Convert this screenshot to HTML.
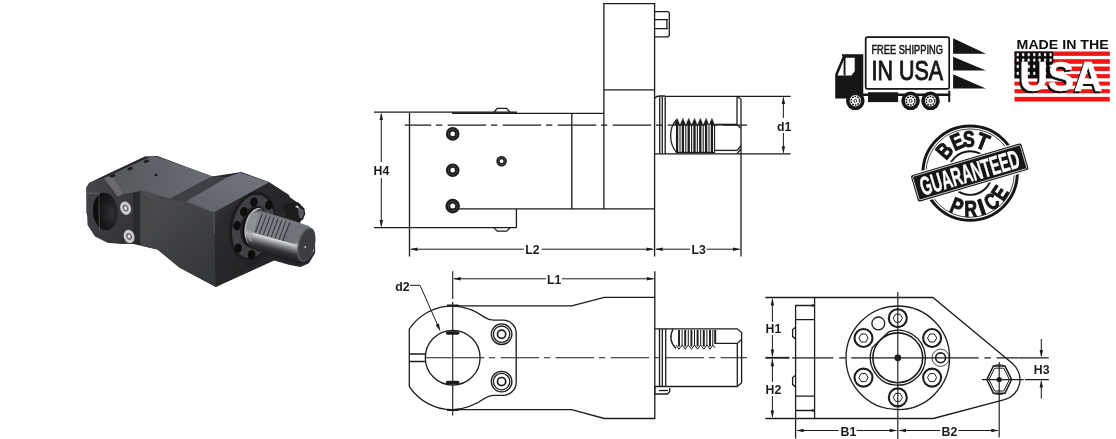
<!DOCTYPE html>
<html>
<head>
<meta charset="utf-8">
<title>Tool holder drawing</title>
<style>
html,body{margin:0;padding:0;background:#fff;}
body{width:1116px;height:439px;overflow:hidden;font-family:"Liberation Sans",sans-serif;}
svg{display:block;}
.l{stroke:#1c1c1c;stroke-width:1.3;fill:none;stroke-linecap:butt;stroke-linejoin:miter;}
.t{stroke:#1c1c1c;stroke-width:0.8;fill:none;}
.k{stroke:#1c1c1c;stroke-width:1.8;fill:none;}
.c{stroke:#1c1c1c;stroke-width:1.15;fill:none;}
.d{stroke:#1c1c1c;stroke-width:1.0;fill:none;}
.a{fill:#1c1c1c;stroke:none;}
.lb{font-family:"Liberation Sans",sans-serif;font-weight:bold;font-size:12.3px;fill:#1c1c1c;}
</style>
</head>
<body>
<svg width="1116" height="439" viewBox="0 0 1116 439">
<defs><filter id="soft" x="0" y="0" width="1116" height="439" filterUnits="userSpaceOnUse"><feGaussianBlur stdDeviation="0.4"/></filter></defs>
<rect x="0" y="0" width="1116" height="439" fill="#ffffff"/>
<g filter="url(#soft)">

<!-- ================= TOP VIEW (side elevation) ================= -->
<g id="topview">
  <!-- tall block -->
  <path class="l" d="M603.9 208.9 V3.6 H654.6 V256.5"/>
  <path class="l" d="M603.9 89.8 H654.6"/>
  <!-- bolt on block -->
  <path class="l" stroke-width="1.6" d="M654.6 11.6 H668 L669.3 13 V35.5 L668 36.8 H654.6"/>
  <path class="l" stroke-width="1.5" d="M654.6 19.6 H668 M654.6 28.6 H668 M666.9 19.6 V28.6"/>
  <!-- main body -->
  <path class="l" d="M409.5 256.5 V113 "/>
  <path class="l" d="M374 112.2 H517"/>
  <path class="k" d="M452 113.2 H517"/>
  <path class="l" d="M517 113.4 H603.9"/>
  <path class="l" d="M494 112.2 L497.3 108.4 H506.6 L510 112.2"/>
  <path class="l" d="M571.8 113.4 V208.9"/>
  <path class="l" d="M459 208.9 H654.6"/>
  <path class="l" d="M516.4 208.9 V227.7"/>
  <path class="l" d="M374 227.7 H516.4"/>
  <path class="l" d="M494 227.9 L497.3 231.2 H506.6 L510 227.9"/>
  <!-- screws -->
  <g>
    <circle cx="452.7" cy="133.9" r="5.7" fill="#5c5c5c" stroke="#1c1c1c" stroke-width="2.2"/>
    <circle cx="452.7" cy="133.9" r="3.2" fill="#fff" stroke="#1c1c1c" stroke-width="1.7"/>
    <circle cx="452.7" cy="170.2" r="5.7" fill="#5c5c5c" stroke="#1c1c1c" stroke-width="2.2"/>
    <circle cx="452.7" cy="170.2" r="3.2" fill="#fff" stroke="#1c1c1c" stroke-width="1.7"/>
    <circle cx="452.7" cy="206.1" r="6.1" fill="#5c5c5c" stroke="#1c1c1c" stroke-width="2.4"/>
    <circle cx="452.7" cy="206.1" r="3.4" fill="#fff" stroke="#1c1c1c" stroke-width="1.8"/>
    <circle cx="501.6" cy="161.2" r="4.5" fill="#5c5c5c" stroke="#1c1c1c" stroke-width="1.6"/>
    <circle cx="501.6" cy="161.2" r="2.5" fill="#fff" stroke="#1c1c1c" stroke-width="1.2"/>
  </g>
  <!-- centre line -->
  <path class="c" d="M404.8 125.1 H747" stroke-dasharray="38.5 4.8 6.3 5.4" stroke-dashoffset="12.1"/>
  <!-- shaft -->
  <path class="l" d="M665.2 96.3 H790.6 M654.6 153.9 H790.6"/>
  <path class="l" d="M654.6 98.2 C656 96.6 658 96 659.7 96 H665.2"/>
  <path class="l" d="M659.7 96.2 V153.6 M662.3 96.2 V153.6 M665.2 96.3 V153.9"/>
  <path class="l" d="M737 96.3 V124.6 M741 99 V256.5 M737 96.3 L741 99.2"/>
  <path class="l" d="M737 153.9 L741 148.6 M737 150.6 L741 145.6"/>
  <!-- thread -->
  <path class="l" d="M676.5 119.6 C668.6 128 668.6 144 676.8 152.6 H715"/>
  <path class="l" d="M714.6 150.4 H737"/>
  <path class="k" d="M715.4 124.6 H737" stroke-width="1.6"/>
  <path class="l" d="M737 124.6 L741 128.4"/>
  <path fill="#1c1c1c" stroke="#1c1c1c" stroke-width="0.5" d="M674.6 124.4 L677.1 118.4 L679.6 124.4 Z M680.4 124.4 L682.9 118.4 L685.4 124.4 Z M686.2 124.4 L688.7 118.4 L691.2 124.4 Z M692.0 124.4 L694.5 118.4 L697.0 124.4 Z M697.8 124.4 L700.3 118.4 L702.8 124.4 Z M703.6 124.4 L706.1 118.4 L708.6 124.4 Z M709.4 124.4 L711.9 118.4 L714.4 124.4 Z"/>
  <path fill="#1c1c1c" d="M674.9 151.8 L677.1 153.6 L679.3 151.8 Z M680.7 151.8 L682.9 153.6 L685.1 151.8 Z M686.5 151.8 L688.7 153.6 L690.9 151.8 Z M692.3 151.8 L694.5 153.6 L696.7 151.8 Z M698.1 151.8 L700.3 153.6 L702.5 151.8 Z M703.9 151.8 L706.1 153.6 L708.3 151.8 Z M709.7 151.8 L711.9 153.6 L714.1 151.8 Z"/>
  <path stroke="#1c1c1c" stroke-width="2.3" fill="none" d="M677.1 121 V152.6 M682.9 121 V152.6 M688.7 121 V152.6 M694.5 121 V152.6 M700.3 121 V152.6 M706.1 121 V152.6 M711.9 121 V152.6"/>
  <path stroke="#1c1c1c" stroke-width="1.1" fill="none" d="M680 124 V152 M685.8 124 V152 M691.6 124 V152 M697.4 124 V152 M703.2 124 V152 M709 124 V152 M714.6 124 V152"/>
  <!-- dimensions -->
  <path class="d" d="M381.3 114 V226"/>
  <path class="a" d="M381.3 112.6 L379.6 120 H383 Z M381.3 227.4 L379.6 220 H383 Z"/>
  <rect x="372" y="162" width="19" height="16" fill="#fff"/>
  <text class="lb" x="373.6" y="174.6">H4</text>
  <path class="d" d="M411 249.2 H653 M656 249.2 H739.6"/>
  <path class="a" d="M410 249.2 L417.5 247.5 V250.9 Z M654 249.2 L646.5 247.5 V250.9 Z M655.2 249.2 L662.7 247.5 V250.9 Z M740.5 249.2 L733 247.5 V250.9 Z"/>
  <rect x="524" y="242" width="17.5" height="14" fill="#fff"/>
  <text class="lb" x="525.3" y="254.2">L2</text>
  <rect x="690" y="242" width="16.5" height="14" fill="#fff"/>
  <text class="lb" x="691.4" y="254.2">L3</text>
  <path class="d" d="M783.4 97.5 V152.6"/>
  <path class="a" d="M783.4 96.6 L781.7 104 H785.1 Z M783.4 153.6 L781.7 146.2 H785.1 Z"/>
  <rect x="776" y="118" width="16" height="15" fill="#fff"/>
  <text class="lb" x="777" y="131">d1</text>
</g>

<!-- ================= PLAN VIEW ================= -->
<g id="planview">
  <!-- outline -->
  <path class="l" d="M409.3 386.6 V329 A52 52 0 0 1 452.7 305.9 H571.7 L604.3 297.3 H654.8 V418.5 H604.3 L571.7 409.7 H452.7 A52 52 0 0 1 409.3 386.6"/>
  <!-- clamp contour -->
  <path class="l" d="M452.7 305.9 C468 306.5 478 312.5 485.3 317.6 C488.5 319.6 490.5 320.2 493.5 320.2 H503 A13.2 13.2 0 0 1 516.2 333.4 V382.2 A13.2 13.2 0 0 1 503 395.4 H493.5 C490.5 395.4 488.5 396 485.3 398 C478 403.1 468 409.1 452.7 409.7"/>
  <!-- bore -->
  <circle class="l" cx="452.7" cy="357.7" r="27.4"/>
  <!-- slot -->
  <path class="l" d="M409.3 354 H425.6 M409.3 361.5 H425.6"/>
  <!-- bore marks -->
  <path stroke="#1c1c1c" stroke-width="3.4" stroke-linecap="round" fill="none" d="M447.5 333 H457.8 M447.5 382.5 H457.8"/>
  <path stroke="#1c1c1c" stroke-width="2.2" fill="none" d="M447 305.6 H458.5 M447 410 H458.5"/>
  <!-- screws -->
  <circle class="l" cx="501.6" cy="334.2" r="10.3"/>
  <circle class="l" cx="501.6" cy="334.2" r="8.2"/>
  <circle cx="501.6" cy="334.2" r="4.1" fill="none" stroke="#1c1c1c" stroke-width="1.7"/>
  <circle class="l" cx="501.6" cy="381.6" r="10.3"/>
  <circle class="l" cx="501.6" cy="381.6" r="8.2"/>
  <circle cx="501.6" cy="381.6" r="4.1" fill="none" stroke="#1c1c1c" stroke-width="1.7"/>
  <!-- centre lines -->
  <path class="c" d="M425.6 357.7 H484.3"/><path class="c" d="M488.9 357.7 H747" stroke-dasharray="6.3 5.4 38.5 4.8"/>
  <path class="c" d="M452.7 271.3 V299 M452.7 302 V415.5"/>
  <path class="l" d="M654.8 271.3 V297.3"/>
  <!-- shaft -->
  <path class="l" d="M654.8 328.8 H737.3 L741.6 332.6 V382.7 L737.3 386.5 H654.8"/>
  <path class="l" d="M737.3 343.4 V386.5"/>
  <path class="l" d="M659.5 329 V386.3 M662.3 329 V386.3 M665.7 328.8 V386.5"/>
  <path class="l" d="M654.8 386.5 V394 H667.6 L669.7 391.6 V388"/>
  <path class="l" d="M659 390.5 H668"/>
  <!-- thread -->
  <path class="l" d="M673 329 C669.5 336 670.5 343 676 348.5"/>
  <path class="l" d="M715.3 343.4 H737.3 L741.6 339.5"/>
  <path stroke="#1c1c1c" stroke-width="1.9" fill="none" d="M679 330 V346.5 M685.2 330 V346.5 M691.4 330 V346.5 M697.6 330 V346.5 M703.8 330 V346.5 M710 330 V346.5 M715.2 330 V344"/>
  <path class="d" d="M682.1 330 V345 M688.3 330 V345 M694.5 330 V345 M700.7 330 V345 M706.9 330 V345 M712.8 330 V345"/>
  <path class="d" d="M676 345 L679 349.2 L682.1 345 L685.2 349.2 L688.3 345 L691.4 349.2 L694.5 345 L697.6 349.2 L700.7 345 L703.8 349.2 L706.9 345 L710 349.2 L712.8 345 L715.3 348"/>
  <!-- dims -->
  <path class="d" d="M454 278.8 H653.6"/>
  <path class="a" d="M453.2 278.8 L460.7 277.1 V280.5 Z M654.3 278.8 L646.8 277.1 V280.5 Z"/>
  <rect x="546" y="271.5" width="16" height="14" fill="#fff"/>
  <text class="lb" x="547" y="283.8">L1</text>
  <text class="lb" x="395.3" y="290.8">d2</text>
  <path class="d" d="M410 285.3 H420 L438.8 327.6"/>
  <path class="a" d="M440.4 331.4 L435.6 325 L438.9 323.5 Z"/>
</g>

<!-- ================= FRONT VIEW ================= -->
<g id="frontview">
  <!-- body outline -->
  <path class="l" d="M765.3 297.5 H932.9 L1012.5 363.6 A20.8 20.8 0 0 1 1004.5 399.7 L933.3 418.5 H765.3"/>
  <path class="l" d="M814.6 297.5 V418.5"/>
  <!-- flange plate -->
  <path class="l" d="M795.6 438.5 V305.5 H814.6"/>
  <path class="l" d="M795.6 319.6 H814.6 M795.6 396.2 H814.6 M795.6 410.5 H814.6"/>
  <path class="k" d="M811.5 305.5 H814.6 M811.5 410.5 H814.6"/>
  <path class="l" d="M795.6 327.2 L792.6 329.6 V336.6 L795.6 339 M795.6 375.2 L792.6 377.6 V384.6 L795.6 387"/>
  <!-- main circles -->
  <circle class="l" cx="897.8" cy="357.8" r="51.8"/>
  <path class="l" d="M872.3 347.6 A27.5 27.5 0 1 0 888.7 331.8 Z"/>
  <circle cx="897.8" cy="357.8" r="24.9" fill="none" stroke="#1c1c1c" stroke-width="1.6"/>
  <circle cx="897.8" cy="318.2" r="9.0" fill="#fff" stroke="#1c1c1c" stroke-width="2.1"/>
  <path class="d" d="M902.4 318.2 L900.1 322.2 L895.5 322.2 L893.2 318.2 L895.5 314.2 L900.1 314.2 Z"/>
  <circle cx="932.1" cy="338.0" r="9.0" fill="#fff" stroke="#1c1c1c" stroke-width="2.1"/>
  <path class="d" d="M936.7 338.0 L934.4 342.0 L929.8 342.0 L927.5 338.0 L929.8 334.0 L934.4 334.0 Z"/>
  <circle cx="932.1" cy="377.6" r="9.0" fill="#fff" stroke="#1c1c1c" stroke-width="2.1"/>
  <path class="d" d="M936.7 377.6 L934.4 381.6 L929.8 381.6 L927.5 377.6 L929.8 373.6 L934.4 373.6 Z"/>
  <circle cx="897.8" cy="397.4" r="9.0" fill="#fff" stroke="#1c1c1c" stroke-width="2.1"/>
  <path class="d" d="M902.4 397.4 L900.1 401.4 L895.5 401.4 L893.2 397.4 L895.5 393.4 L900.1 393.4 Z"/>
  <circle cx="863.5" cy="377.6" r="9.0" fill="#fff" stroke="#1c1c1c" stroke-width="2.1"/>
  <path class="d" d="M868.1 377.6 L865.8 381.6 L861.2 381.6 L858.9 377.6 L861.2 373.6 L865.8 373.6 Z"/>
  <circle cx="863.5" cy="338.0" r="9.0" fill="#fff" stroke="#1c1c1c" stroke-width="2.1"/>
  <path class="d" d="M868.1 338.0 L865.8 342.0 L861.2 342.0 L858.9 338.0 L861.2 334.0 L865.8 334.0 Z"/>

  <circle class="l" cx="878.3" cy="323.4" r="6.4" stroke-width="1.4"/>
  <circle class="t" cx="940.6" cy="357.8" r="8.6" stroke-width="1.05"/>
  <circle cx="940.6" cy="357.8" r="4.9" fill="#fff" stroke="#1c1c1c" stroke-width="1.6"/>
  <circle cx="897.8" cy="357.8" r="3.4" fill="#1c1c1c"/>
  <circle cx="897.8" cy="357.8" r="1.1" fill="#777"/>
  <!-- centre lines -->
  <path class="c" d="M897.8 292 V439"/>
  <path class="c" d="M792.1 357.8 H833.4 M839.2 357.8 H845.7 M851.2 357.8 H978.6 M984.4 357.8 H990.8 M996.6 357.8 H1018.5"/>
  <path class="k" d="M765.3 357.8 H789.5"/>
  <!-- hex bolt nose -->
  <path d="M986.8 379.6 L993.4 366.0 L1005.0 366.0 L1011.6 379.6 L1005.0 393.2 L993.4 393.2 Z" fill="#fff" stroke="#1c1c1c" stroke-width="1.5"/>
  <path class="d" d="M989.0 379.6 L994.6 368.2 L1003.8 368.2 L1009.4 379.6 L1003.8 391.0 L994.6 391.0 Z"/>
  <path class="d" d="M993.6 366.2 C994.6 364.4 1003.8 364.4 1004.8 366.2 M993.6 393 C994.6 394.8 1003.8 394.8 1004.8 393"/>
  <circle cx="999.2" cy="379.6" r="2.7" fill="#1c1c1c"/>
  <path class="c" d="M999.2 362 V437.5 M981.9 379.6 H1023.7"/>
  <!-- dims H1/H2 -->
  <path class="d" d="M772.4 299 V322 M772.4 335 V356.4 M772.4 359.2 V382 M772.4 396 V417"/>
  <path class="a" d="M772.4 298 L770.7 305.4 H774.1 Z M772.4 357 L770.7 349.6 H774.1 Z M772.4 358.8 L770.7 366.2 H774.1 Z M772.4 418 L770.7 410.6 H774.1 Z"/>
  <text class="lb" x="765.6" y="332.6">H1</text>
  <text class="lb" x="765.6" y="393.6">H2</text>
  <!-- dims B1/B2 -->
  <path class="d" d="M797 430.5 H896.4 M899.2 430.5 H998"/>
  <path class="a" d="M796.2 430.5 L803.7 428.8 V432.2 Z M897.2 430.5 L889.7 428.8 V432.2 Z M898.5 430.5 L906 428.8 V432.2 Z M998.8 430.5 L991.3 428.8 V432.2 Z"/>
  <rect x="838.6" y="423" width="18" height="14" fill="#fff"/>
  <text class="lb" x="840.6" y="435.6">B1</text>
  <rect x="940.3" y="423" width="18" height="14" fill="#fff"/>
  <text class="lb" x="941.6" y="435.6">B2</text>
  <!-- H3 -->
  <path class="l" d="M1018.7 357.8 H1048.8 M1025 379.6 H1048.8"/>
  <path class="d" d="M1041.3 339 V356 M1041.3 381.4 V398.7"/>
  <path class="a" d="M1041.3 357.3 L1039.6 349.9 H1043 Z M1041.3 380.1 L1039.6 387.5 H1043 Z"/>
  <text class="lb" x="1033.8" y="373.6">H3</text>
</g>

<!-- PHOTO-START -->
<defs>
  <linearGradient id="gTop" x1="0" y1="0" x2="1" y2="0"><stop offset="0" stop-color="#54565b"/><stop offset="0.55" stop-color="#606369"/><stop offset="1" stop-color="#6a6d74"/></linearGradient>
  <linearGradient id="gTop2" x1="0" y1="1" x2="1" y2="0"><stop offset="0" stop-color="#5e6168"/><stop offset="1" stop-color="#73777f"/></linearGradient>
  <linearGradient id="gSide" x1="0" y1="0" x2="0.6" y2="1"><stop offset="0" stop-color="#4c4d52"/><stop offset="0.5" stop-color="#424347"/><stop offset="1" stop-color="#36373a"/></linearGradient>
  <linearGradient id="gFront" x1="0" y1="0" x2="1" y2="1"><stop offset="0" stop-color="#47484d"/><stop offset="0.22" stop-color="#2b2c2f"/><stop offset="1" stop-color="#1b1b1e"/></linearGradient>
  <linearGradient id="gClamp" x1="0" y1="0" x2="1" y2="1"><stop offset="0" stop-color="#46474b"/><stop offset="1" stop-color="#2c2d30"/></linearGradient>
  <linearGradient id="gShaft" gradientUnits="userSpaceOnUse" x1="277" y1="214" x2="266" y2="256"><stop offset="0" stop-color="#62666c"/><stop offset="0.12" stop-color="#7e8288"/><stop offset="0.5" stop-color="#787c82"/><stop offset="0.6" stop-color="#c4c6c9"/><stop offset="0.7" stop-color="#77797d"/><stop offset="0.8" stop-color="#343538"/><stop offset="1" stop-color="#141416"/></linearGradient>
  <radialGradient id="gBore" cx="0.75" cy="0.55" r="0.75"><stop offset="0" stop-color="#303135"/><stop offset="0.6" stop-color="#17181a"/><stop offset="1" stop-color="#09090a"/></radialGradient>
  <filter id="pblur" x="60" y="130" width="290" height="190" filterUnits="userSpaceOnUse"><feGaussianBlur stdDeviation="0.6"/></filter>
</defs>
<g id="photo" filter="url(#pblur)">
<path fill="#262729" d="M86.4 187.4 L89.0 183.0 L106.5 174.6 L144.8 156.4 L157.5 156.0 L212.2 176.5 L241.4 172.1 L268.8 181.9 L288.8 194.7 L293.2 204.9 L302.7 212.2 L303.4 218.8 L299.0 222.4 L307.1 229.4 L315.1 240.3 L315.1 253.1 L308.9 263.3 L300.5 266.9 L288.8 264.7 L274.2 260.4 L215.9 287.0 L179.4 267.6 L157.5 249.4 L141.1 245.8 L133.8 243.9 L121.1 243.2 L106.5 235.6 L91.9 225.7 L86.4 212.9 Z"/>
<path fill="url(#gTop)" d="M103.8 178.0 L151.4 156.3 L158.1 157.0 L212.6 176.3 L170.1 198.8 L140.1 191.3 L122.6 194.6 L112.6 175.5 Z"/>
<path fill="#3d3f44" d="M212.6 176.3 L227.7 177.0 L186.3 201.3 L170.1 198.8 Z"/>
<path fill="url(#gTop2)" d="M227.7 177.0 L240.2 172.5 L269.0 182.6 L213.9 212.6 L186.3 201.3 Z"/>
<path fill="url(#gSide)" d="M140.0 189.6 L170.1 198.8 L186.3 201.3 L213.9 212.6 L215.9 287.0 L179.4 267.6 L157.5 249.4 L141.1 245.8 Z"/>
<path fill="url(#gFront)" d="M213.9 212.6 L269.0 182.6 L300.2 204.6 L304.7 213.8 L300.2 222.6 L265.1 260.2 L243.8 269.9 L215.9 287.0 Z"/>
<path stroke="#5a5d63" stroke-width="0.9" fill="none" d="M186.3 201.3 L213.9 212.6 L214.4 235.1"/>
<path fill="url(#gClamp)" d="M86.3 188.1 L90.0 182.6 L103.8 178.0 L112.6 175.5 L122.6 194.6 L140.1 191.3 L151.4 202.6 L151.4 232.6 L138.9 243.2 L121.3 243.9 L107.5 242.7 L95.0 236.4 L87.5 225.1 Z"/>
<path fill="#686a70" d="M103.8 178.0 L112.6 175.5 L123.1 194.1 L117.6 196.6 Z"/>
<path fill="#45464a" d="M140.1 191.3 L152.1 201.3 L152.6 232.6 L140.1 244.2 Z"/>
<path fill="#28292c" d="M133.1 193.1 L140.1 191.3 L140.1 244.2 L133.6 243.7 Z"/>
<ellipse cx="105.3" cy="211.6" rx="12.3" ry="18.8" transform="rotate(-5.0 105.3 211.6)" fill="url(#gBore)" />
<path stroke="#b8babd" stroke-width="0.6" fill="none" opacity="0.5" d="M86.3 193.1 L98.8 193.1 L99.5 230.1"/>
<ellipse cx="125.6" cy="208.1" rx="5.3" ry="6.8" transform="rotate(-20.0 125.6 208.1)" fill="#c9cacc" />
<ellipse cx="125.6" cy="208.1" rx="2.8" ry="3.5" transform="rotate(-20.0 125.6 208.1)" fill="#6d6f73" />
<ellipse cx="125.6" cy="208.1" rx="1.3" ry="1.8" transform="rotate(-20.0 125.6 208.1)" fill="#e8e8ea" />
<ellipse cx="129.1" cy="236.4" rx="5.3" ry="6.8" transform="rotate(-20.0 129.1 236.4)" fill="#c9cacc" />
<ellipse cx="129.1" cy="236.4" rx="2.8" ry="3.5" transform="rotate(-20.0 129.1 236.4)" fill="#6d6f73" />
<ellipse cx="129.1" cy="236.4" rx="1.3" ry="1.8" transform="rotate(-20.0 129.1 236.4)" fill="#e8e8ea" />
<ellipse cx="146.4" cy="161.3" rx="2.9" ry="1.6" transform="rotate(-15.0 146.4 161.3)" fill="#1c1d1f" />
<ellipse cx="130.1" cy="168.8" rx="2.9" ry="1.6" transform="rotate(-15.0 130.1 168.8)" fill="#1c1d1f" />
<ellipse cx="112.6" cy="175.8" rx="2.9" ry="1.6" transform="rotate(-15.0 112.6 175.8)" fill="#1c1d1f" />
<ellipse cx="155.9" cy="175.0" rx="2.0" ry="1.1" transform="rotate(-15.0 155.9 175.0)" fill="#1c1d1f" />
<ellipse cx="252.6" cy="226.4" rx="23.0" ry="35.1" transform="rotate(12.0 252.6 226.4)" fill="#1b1c1e" />
<ellipse cx="253.1" cy="226.4" rx="20.5" ry="32.1" transform="rotate(12.0 253.1 226.4)" fill="#404146" />
<ellipse cx="254.1" cy="226.6" rx="13.5" ry="21.5" transform="rotate(12.0 254.1 226.6)" fill="#202124" />
<ellipse cx="253.9" cy="202.1" rx="3.8" ry="4.8" transform="rotate(12.0 253.9 202.1)" fill="#0c0c0d" />
<ellipse cx="268.9" cy="205.1" rx="3.8" ry="4.8" transform="rotate(12.0 268.9 205.1)" fill="#0c0c0d" />
<ellipse cx="243.8" cy="211.8" rx="3.8" ry="4.8" transform="rotate(12.0 243.8 211.8)" fill="#0c0c0d" />
<ellipse cx="237.1" cy="225.6" rx="3.8" ry="4.8" transform="rotate(12.0 237.1 225.6)" fill="#0c0c0d" />
<ellipse cx="238.1" cy="248.2" rx="3.8" ry="4.8" transform="rotate(12.0 238.1 248.2)" fill="#0c0c0d" />
<ellipse cx="251.6" cy="254.7" rx="3.8" ry="4.8" transform="rotate(12.0 251.6 254.7)" fill="#0c0c0d" />
<path fill="#1a1a1c" d="M282.9 207.0 L287.7 203.3 L298.0 202.2 L304.4 208.6 L305.2 214.1 L302.8 219.7 L298.0 220.5 L287.7 217.3 Z"/>
<path fill="#56585c" d="M297.5 206.5 L303.3 209.7 L303.9 214.1 L302.0 218.9 L299.1 217.3 Z"/>
<ellipse cx="297.2" cy="206.8" rx="1.8" ry="1.1" transform="rotate(20.0 297.2 206.8)" fill="#c4c5c8" />
<ellipse cx="254.6" cy="227.1" rx="11.8" ry="20.0" transform="rotate(12.0 254.6 227.1)" fill="#0e0e10" />
<ellipse cx="256.1" cy="227.1" rx="11.3" ry="19.3" transform="rotate(12.0 256.1 227.1)" fill="#aeb0b4" />
<ellipse cx="258.6" cy="227.1" rx="10.5" ry="18.3" transform="rotate(12.0 258.6 227.1)" fill="#2c2d30" />
<path fill="url(#gShaft)" d="M251.0 213.4 L259.7 210.2 L290.1 219.7 L309.2 226.1 L314.8 236.5 L314.0 250.8 L306.8 262.8 L298.8 263.6 L266.9 254.4 L250.2 248.0 L245.9 238.1 L247.0 223.7 Z"/>
<path fill="#9c9ea2" opacity="0.55" d="M247.4 223.7 L251.0 213.8 L258.9 212.6 L254.1 232.7 L251.0 242.9 L247.0 237.3 Z"/>
<path fill="#7d8187" d="M258.9 212.6 L290.1 222.1 L279.7 240.0 L254.1 232.7 Z"/>
<path fill="#6f737a" d="M290.1 222.1 L307.9 227.2 L305.5 231.4 L294.4 244.0 L279.7 240.0 Z"/>
<path stroke="#3a3c40" stroke-width="1.2" fill="none" d="M262.4 213.7 L255.4 232.5 M266.4 214.9 L259.3 233.7 M270.3 216.1 L263.2 234.9 M274.2 217.3 L267.2 236.1 M278.1 218.5 L271.1 237.3 M282.0 219.7 L275.0 238.6 M285.9 220.9 L278.9 239.8 M289.8 222.2 L282.8 241.0"/>
<path stroke="#d4d6d8" stroke-width="1.3" fill="none" d="M252.9 233.6 L279.7 241.0 L294.4 244.8"/>
<ellipse cx="306.3" cy="244.5" rx="8.5" ry="17.6" transform="rotate(14.0 306.3 244.5)" fill="#5c5e62" />
<ellipse cx="306.8" cy="244.8" rx="7.7" ry="16.4" transform="rotate(14.0 306.8 244.8)" fill="#3b3d41" />
<ellipse cx="305.2" cy="247.0" rx="1.0" ry="1.1" transform="rotate(0.0 305.2 247.0)" fill="#c8c8ca" />
</g>
<!-- PHOTO-END -->
<!-- ================= BADGES ================= -->
<g id="truck">
  <rect x="865.7" y="37.1" width="83.5" height="51.8" rx="1.8" fill="#fff" stroke="#161616" stroke-width="1.7"/>
  <text x="871.4" y="53.6" font-family="Liberation Sans, sans-serif" font-size="12.9" fill="#161616" textLength="71.5" lengthAdjust="spacingAndGlyphs" stroke="#161616" stroke-width="0.55">FREE SHIPPING</text>
  <text x="871.6" y="80.3" font-family="Liberation Sans, sans-serif" font-size="27.2" fill="#161616" textLength="71.5" lengthAdjust="spacingAndGlyphs" stroke="#161616" stroke-width="1.0">IN USA</text>
  <path fill="#161616" d="M842.0 54.3 L863.3 54.3 L863.3 98.4 L835.2 98.4 L835.2 74.2 L842.8 56.2 L842.0 56.2 Z"/>
  <path fill="#fff" d="M845.7 57.8 L854.7 57.8 L854.7 71.3 L851.4 75.4 L837.5 75.4 L844.4 58.4 L845.7 58.4 Z"/>
  <path fill="#161616" d="M843.6 57.8 L845.5 57.8 L845.5 75.4 L843.6 75.4 Z"/>
  <path fill="#161616" d="M868.0 92.2 L898.1 92.2 L898.1 102.1 L868.0 102.1 Z"/>
  <path fill="#161616" d="M862.9 93.5 L950.2 93.5 L950.2 95.9 L862.9 95.9 Z"/>
  <path fill="#161616" d="M948.2 90.6 L950.2 90.6 L950.2 102.1 L948.2 102.1 Z"/>
  <circle cx="855.3" cy="100.8" r="9.3" fill="#161616"/><circle cx="855.3" cy="100.8" r="5.7" fill="#fff"/><circle cx="855.3" cy="100.8" r="4.3" fill="none" stroke="#161616" stroke-width="1.5" stroke-dasharray="1.7 1"/><circle cx="855.3" cy="100.8" r="1.5" fill="#fff" stroke="#161616" stroke-width="0.9"/>
<circle cx="910.6" cy="100.8" r="9.3" fill="#161616"/><circle cx="910.6" cy="100.8" r="5.7" fill="#fff"/><circle cx="910.6" cy="100.8" r="4.3" fill="none" stroke="#161616" stroke-width="1.5" stroke-dasharray="1.7 1"/><circle cx="910.6" cy="100.8" r="1.5" fill="#fff" stroke="#161616" stroke-width="0.9"/>
<circle cx="930.5" cy="100.8" r="9.3" fill="#161616"/><circle cx="930.5" cy="100.8" r="5.7" fill="#fff"/><circle cx="930.5" cy="100.8" r="4.3" fill="none" stroke="#161616" stroke-width="1.5" stroke-dasharray="1.7 1"/><circle cx="930.5" cy="100.8" r="1.5" fill="#fff" stroke="#161616" stroke-width="0.9"/>

  <path fill="#161616" d="M953.1 38.3 L985.9 53.7 H953.1 Z M953.1 56.8 L985.9 70.5 H953.1 Z M953.1 74.2 L985.9 88.5 H953.1 Z"/>
</g>
<g id="flag">
  <rect x="1014.5" y="51.5" width="95.3" height="4.4" fill="#f11414"/>
<rect x="1014.5" y="59.2" width="95.3" height="4.6" fill="#f11414"/>
<rect x="1014.5" y="66.5" width="95.3" height="4.6" fill="#f11414"/>
<rect x="1014.5" y="74.1" width="95.3" height="4.2" fill="#f11414"/>
<rect x="1014.5" y="81.6" width="95.3" height="4.0" fill="#f11414"/>
<rect x="1014.5" y="89.2" width="95.3" height="4.0" fill="#f11414"/>
<rect x="1014.5" y="96.9" width="95.3" height="4.6" fill="#f11414"/>

  <rect x="1014.5" y="51.5" width="38.8" height="26.8" fill="#111"/>
  <rect x="1016.7" y="52.9" width="2.2" height="3.4" rx="0.8" fill="#e8ecf4"/><rect x="1022.1" y="52.9" width="2.2" height="3.4" rx="0.8" fill="#e8ecf4"/><rect x="1027.6" y="52.9" width="2.2" height="3.4" rx="0.8" fill="#e8ecf4"/><rect x="1033.1" y="52.9" width="2.2" height="3.4" rx="0.8" fill="#e8ecf4"/><rect x="1038.5" y="52.9" width="2.2" height="3.4" rx="0.8" fill="#e8ecf4"/><rect x="1044.0" y="52.9" width="2.2" height="3.4" rx="0.8" fill="#e8ecf4"/><rect x="1049.5" y="52.9" width="2.2" height="3.4" rx="0.8" fill="#e8ecf4"/><rect x="1016.7" y="58.4" width="2.2" height="3.4" rx="0.8" fill="#e8ecf4"/><rect x="1022.1" y="58.4" width="2.2" height="3.4" rx="0.8" fill="#e8ecf4"/><rect x="1027.6" y="58.4" width="2.2" height="3.4" rx="0.8" fill="#e8ecf4"/><rect x="1033.1" y="58.4" width="2.2" height="3.4" rx="0.8" fill="#e8ecf4"/><rect x="1038.5" y="58.4" width="2.2" height="3.4" rx="0.8" fill="#e8ecf4"/><rect x="1044.0" y="58.4" width="2.2" height="3.4" rx="0.8" fill="#e8ecf4"/><rect x="1049.5" y="58.4" width="2.2" height="3.4" rx="0.8" fill="#e8ecf4"/><rect x="1016.7" y="64.8" width="2.2" height="3.4" rx="0.8" fill="#e8ecf4"/><rect x="1022.1" y="64.8" width="2.2" height="3.4" rx="0.8" fill="#e8ecf4"/><rect x="1027.6" y="64.8" width="2.2" height="3.4" rx="0.8" fill="#e8ecf4"/><rect x="1033.1" y="64.8" width="2.2" height="3.4" rx="0.8" fill="#e8ecf4"/><rect x="1038.5" y="64.8" width="2.2" height="3.4" rx="0.8" fill="#e8ecf4"/><rect x="1044.0" y="64.8" width="2.2" height="3.4" rx="0.8" fill="#e8ecf4"/><rect x="1049.5" y="64.8" width="2.2" height="3.4" rx="0.8" fill="#e8ecf4"/><rect x="1016.7" y="71.7" width="2.2" height="3.4" rx="0.8" fill="#e8ecf4"/><rect x="1022.1" y="71.7" width="2.2" height="3.4" rx="0.8" fill="#e8ecf4"/><rect x="1027.6" y="71.7" width="2.2" height="3.4" rx="0.8" fill="#e8ecf4"/><rect x="1033.1" y="71.7" width="2.2" height="3.4" rx="0.8" fill="#e8ecf4"/><rect x="1038.5" y="71.7" width="2.2" height="3.4" rx="0.8" fill="#e8ecf4"/><rect x="1044.0" y="71.7" width="2.2" height="3.4" rx="0.8" fill="#e8ecf4"/><rect x="1049.5" y="71.7" width="2.2" height="3.4" rx="0.8" fill="#e8ecf4"/>
  <text x="1016.6" y="49.2" font-family="Liberation Sans, sans-serif" font-weight="bold" font-size="13" fill="#0c0c0c" textLength="92" lengthAdjust="spacingAndGlyphs">MADE IN THE</text>
  <text x="1017.6" y="93" font-family="Liberation Sans, sans-serif" font-weight="bold" font-size="43" fill="#0c0c0c" stroke="#0c0c0c" stroke-width="0.6" textLength="83" lengthAdjust="spacingAndGlyphs">USA</text>
  <text x="1019.4" y="91.4" font-family="Liberation Sans, sans-serif" font-weight="bold" font-size="43" fill="#fff" stroke="#fff" stroke-width="0.6" textLength="83" lengthAdjust="spacingAndGlyphs">USA</text>
</g>

<g id="stamp">
  <circle cx="970.1" cy="173.1" r="47.2" fill="#fff" stroke="#161616" stroke-width="3"/>
  <circle cx="970.1" cy="173.1" r="44.2" fill="none" stroke="#161616" stroke-width="0.8"/>
  <circle cx="970.1" cy="173.1" r="21.8" fill="none" stroke="#161616" stroke-width="1.9"/>
  <text transform="translate(970.1 173.1) rotate(-48.9) translate(0 -26.3) scale(0.80 1)" text-anchor="middle" font-family="Liberation Sans, sans-serif" font-weight="bold" font-size="22.6" fill="#161616" stroke="#161616" stroke-width="1.0">B</text>
  <text transform="translate(970.1 173.1) rotate(-22.5) translate(0 -26.3) scale(0.78 1)" text-anchor="middle" font-family="Liberation Sans, sans-serif" font-weight="bold" font-size="22.6" fill="#161616" stroke="#161616" stroke-width="1.0">E</text>
  <text transform="translate(970.1 173.1) rotate(-2.1) translate(0 -26.3) scale(0.78 1)" text-anchor="middle" font-family="Liberation Sans, sans-serif" font-weight="bold" font-size="22.6" fill="#161616" stroke="#161616" stroke-width="1.0">S</text>
  <text transform="translate(970.1 173.1) rotate(21.6) translate(0 -26.3) scale(0.88 1)" text-anchor="middle" font-family="Liberation Sans, sans-serif" font-weight="bold" font-size="22.6" fill="#161616" stroke="#161616" stroke-width="1.0">T</text>
  <text transform="translate(970.1 173.1) rotate(21.9) translate(0 43.6) scale(0.78 1)" text-anchor="middle" font-family="Liberation Sans, sans-serif" font-weight="bold" font-size="22.6" fill="#161616" stroke="#161616" stroke-width="1.0">P</text>
  <text transform="translate(970.1 173.1) rotate(-1.1) translate(0 43.6) scale(0.78 1)" text-anchor="middle" font-family="Liberation Sans, sans-serif" font-weight="bold" font-size="22.6" fill="#161616" stroke="#161616" stroke-width="1.0">R</text>
  <text transform="translate(970.1 173.1) rotate(-18.4) translate(0 43.6) scale(1.00 1)" text-anchor="middle" font-family="Liberation Sans, sans-serif" font-weight="bold" font-size="22.6" fill="#161616" stroke="#161616" stroke-width="1.0">I</text>
  <text transform="translate(970.1 173.1) rotate(-36.7) translate(0 43.6) scale(0.76 1)" text-anchor="middle" font-family="Liberation Sans, sans-serif" font-weight="bold" font-size="22.6" fill="#161616" stroke="#161616" stroke-width="1.0">C</text>
  <text transform="translate(970.1 173.1) rotate(-56.6) translate(0 43.6) scale(0.76 1)" text-anchor="middle" font-family="Liberation Sans, sans-serif" font-weight="bold" font-size="22.6" fill="#161616" stroke="#161616" stroke-width="1.0">E</text>
  <g transform="rotate(-16.4 969.7 172.5)" opacity="0.999">
    <rect x="911.4" y="158" width="116.6" height="29" rx="2.8" fill="#161616" stroke="#fff" stroke-width="1.4"/>
    <rect x="913.6" y="160.2" width="112.2" height="24.6" rx="1.6" fill="none" stroke="#fff" stroke-width="0.7"/>
    <text x="969.7" y="181.6" font-family="Liberation Sans, sans-serif" font-weight="bold" font-size="26" fill="#fff" stroke="#fff" stroke-width="0.45" text-anchor="middle" textLength="102.5" lengthAdjust="spacingAndGlyphs">GUARANTEED</text>
  </g>
</g>

</g>
</svg>
</body>
</html>
